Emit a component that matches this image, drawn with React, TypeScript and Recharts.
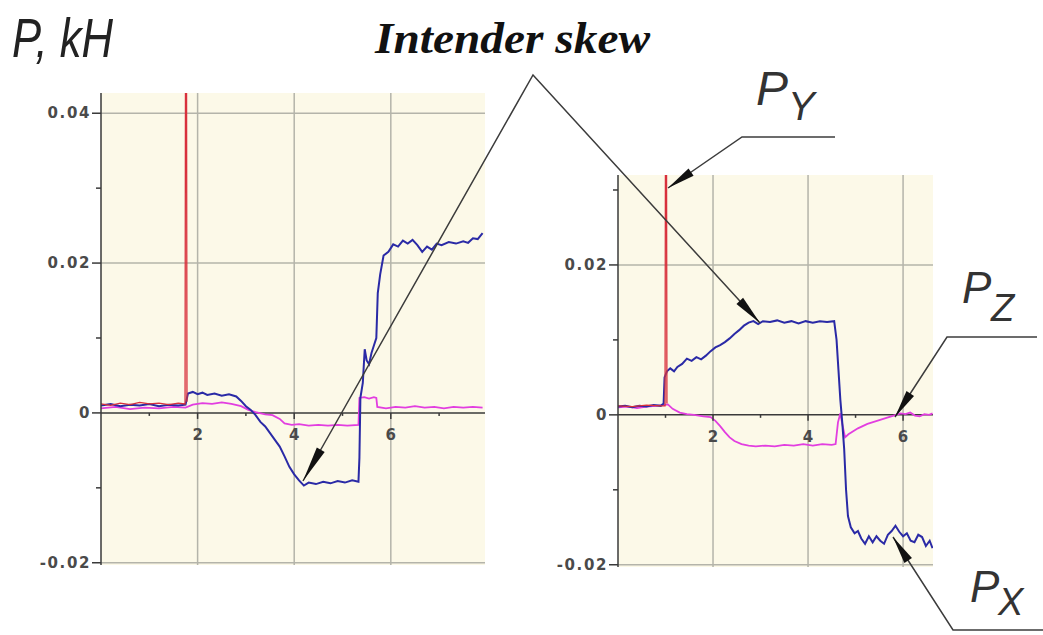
import React from "react";
import {
  CartesianGrid,
  Line,
  LineChart,
  ReferenceDot,
  ReferenceLine,
  XAxis,
  YAxis,
} from "recharts";

// force traces, [time, kH]
const leftPx: [number, number][] = [
  [0, 0.001], [0.2, 0.0012], [0.4, 0.0009], [0.6, 0.0011], [0.8, 0.001],
  [1.0, 0.0012], [1.2, 0.0009], [1.4, 0.0011], [1.6, 0.001], [1.75, 0.0011],
  [1.8, 0.0026], [1.9, 0.0028], [2.0, 0.0025], [2.1, 0.0027], [2.2, 0.0024],
  [2.35, 0.0026], [2.5, 0.0023], [2.65, 0.0025], [2.8, 0.0022], [2.9, 0.0016],
  [3.0, 0.0009], [3.1, 0.0004], [3.2, -0.0003], [3.3, -0.0012], [3.4, -0.0018],
  [3.5, -0.0027], [3.6, -0.0036], [3.7, -0.0045], [3.8, -0.0058], [3.9, -0.0072],
  [4.0, -0.0082], [4.1, -0.009], [4.2, -0.0097], [4.3, -0.0093], [4.45, -0.0095],
  [4.6, -0.0092], [4.75, -0.0094], [4.9, -0.0091], [5.05, -0.0093], [5.2, -0.009],
  [5.33, -0.0092], [5.35, -0.006], [5.37, 0.002], [5.42, 0.004], [5.46, 0.0085],
  [5.5, 0.007], [5.55, 0.0065], [5.6, 0.008], [5.65, 0.009], [5.7, 0.01],
  [5.73, 0.016], [5.78, 0.0185], [5.85, 0.021], [5.95, 0.0215], [6.05, 0.0225],
  [6.15, 0.0222], [6.25, 0.023], [6.35, 0.0226], [6.45, 0.0231], [6.55, 0.0224],
  [6.65, 0.0215], [6.75, 0.0222], [6.85, 0.0218], [6.95, 0.0226], [7.05, 0.0224],
  [7.2, 0.0228], [7.35, 0.0226], [7.5, 0.0229], [7.6, 0.0227], [7.7, 0.0233],
  [7.8, 0.0232], [7.9, 0.024],
];

const leftPz: [number, number][] = [
  [0, 0.0006], [0.3, 0.0008], [0.6, 0.0005], [0.9, 0.0007], [1.2, 0.0006],
  [1.5, 0.0008], [1.75, 0.0007], [1.9, 0.0011], [2.1, 0.0013], [2.3, 0.0012],
  [2.5, 0.0014], [2.7, 0.0012], [2.9, 0.0009], [3.05, 0.0004], [3.2, 0.0001],
  [3.4, -0.0002], [3.55, -0.0003], [3.7, -0.0008], [3.8, -0.0014], [3.95, -0.0016],
  [4.1, -0.0015], [4.3, -0.0017], [4.5, -0.0016], [4.7, -0.0017], [4.9, -0.0016],
  [5.1, -0.0017], [5.33, -0.0016], [5.35, 0.002], [5.45, 0.0021], [5.55, 0.0019],
  [5.65, 0.0021], [5.7, 0.002], [5.72, 0.0008], [5.9, 0.0006], [6.1, 0.0008],
  [6.3, 0.0007], [6.5, 0.0009], [6.7, 0.0007], [6.9, 0.0008], [7.1, 0.0006],
  [7.3, 0.0008], [7.5, 0.0007], [7.7, 0.0008], [7.9, 0.0007],
];

const leftPy: [number, number][] = [
  [0, 0.0012], [0.2, 0.001], [0.4, 0.0013], [0.6, 0.0011], [0.8, 0.0014],
  [1.0, 0.0012], [1.2, 0.0013], [1.4, 0.0011], [1.6, 0.0013], [1.74, 0.0012],
  [1.75, 0.05], [1.77, 0.05], [1.78, 0.0015],
];

const rightPx: [number, number][] = [
  [0, 0.0011], [0.15, 0.0012], [0.3, 0.001], [0.45, 0.0012], [0.6, 0.0011],
  [0.75, 0.0013], [0.9, 0.0012], [0.96, 0.0015], [0.98, 0.005], [1.03, 0.0058],
  [1.1, 0.0062], [1.18, 0.0058], [1.25, 0.0064], [1.35, 0.0068], [1.45, 0.0075],
  [1.55, 0.0072], [1.65, 0.0077], [1.75, 0.0074], [1.85, 0.0079], [1.95, 0.0085],
  [2.05, 0.009], [2.15, 0.0093], [2.25, 0.0097], [2.35, 0.0102], [2.45, 0.0108],
  [2.55, 0.0113], [2.65, 0.0119], [2.75, 0.0123], [2.85, 0.0125], [2.95, 0.0121],
  [3.05, 0.0125], [3.2, 0.0124], [3.35, 0.0126], [3.5, 0.0123], [3.65, 0.0125],
  [3.8, 0.0122], [3.95, 0.0125], [4.1, 0.0123], [4.25, 0.0125], [4.4, 0.0124],
  [4.55, 0.0125], [4.6, 0.01], [4.64, 0.006], [4.68, 0.002], [4.72, -0.001],
  [4.76, -0.0045], [4.8, -0.01], [4.84, -0.0135], [4.9, -0.015], [4.98, -0.0158],
  [5.05, -0.0155], [5.12, -0.0165], [5.2, -0.0172], [5.28, -0.0162], [5.36, -0.017],
  [5.44, -0.0162], [5.52, -0.0168], [5.6, -0.0172], [5.68, -0.016], [5.76, -0.0155],
  [5.84, -0.0148], [5.92, -0.0156], [6.0, -0.0162], [6.08, -0.0158], [6.16, -0.0168],
  [6.24, -0.017], [6.32, -0.016], [6.4, -0.0163], [6.48, -0.0175], [6.56, -0.0168],
  [6.62, -0.0178],
];

const rightPz: [number, number][] = [
  [0, 0.001], [0.2, 0.0011], [0.4, 0.0009], [0.6, 0.0011], [0.8, 0.0012],
  [0.95, 0.0013], [1.05, 0.0014], [1.15, 0.0008], [1.3, 0.0003], [1.45, 0.0001],
  [1.6, 0.0], [1.8, -0.0002], [1.95, -0.0003], [2.05, -0.0008], [2.15, -0.0015],
  [2.25, -0.0023], [2.35, -0.003], [2.45, -0.0035], [2.6, -0.0039], [2.75, -0.0041],
  [2.9, -0.0042], [3.1, -0.0041], [3.3, -0.0042], [3.5, -0.004], [3.7, -0.0041],
  [3.9, -0.0039], [4.1, -0.0041], [4.3, -0.0039], [4.5, -0.004], [4.58, -0.0039],
  [4.63, -0.001], [4.68, 0.0002], [4.72, -0.0012], [4.78, -0.003], [4.85, -0.0026],
  [4.95, -0.0022], [5.05, -0.0018], [5.15, -0.0015], [5.25, -0.0012], [5.35, -0.001],
  [5.45, -0.0008], [5.55, -0.0006], [5.65, -0.0004], [5.75, -0.0002], [5.85, 0.0],
  [5.95, 0.0002], [6.05, 0.0001], [6.15, 0.0003], [6.25, -0.0001], [6.35, -0.0002],
  [6.45, 0.0001], [6.55, 0.0], [6.62, 0.0002],
];

const rightPy: [number, number][] = [
  [0, 0.0012], [0.3, 0.0011], [0.6, 0.0013], [0.9, 0.0012], [0.99, 0.0012],
  [1.0, 0.04], [1.02, 0.04], [1.03, 0.0015],
];

const leftYTicks = [-0.02, -0.01, 0, 0.01, 0.02, 0.03, 0.04];
const leftYLabels = ["-0.02", "", "0", "", "0.02", "", "0.04"];
const rightYTicks = [-0.02, -0.01, 0, 0.01, 0.02, 0.03];
const rightYLabels = ["-0.02", "", "0", "", "0.02", ""];
const leftXTicks = [1, 2, 3, 4, 5, 6, 7];
const rightXTicks = [1, 2, 3, 4, 5, 6];
const xLabels: Record<number, string> = { 2: "2", 4: "4", 6: "6" };

const BLUE = "#2a2aa6";
const MAGENTA = "#e23ee0";
const RED = "#d8303c";
const GRID = "#b4b4aa";
const AXIS = "#3a3a3a";
const CREAM = "#fcf9e8";
const tickFont = { fontFamily: "DejaVu Sans, sans-serif", fontSize: 15, fontWeight: 700 };

const pts = (a: [number, number][]) => a.map(([x, y]) => ({ x, y }));

function makeYTick(labels: string[]) {
  return (p: any) => {
    const label = labels[p.index] ?? "";
    const len = label ? 9 : 5;
    return (
      <g>
        <line x1={p.x - len} x2={p.x} y1={p.y} y2={p.y} stroke={AXIS} strokeWidth={1.5} />
        {label && (
          <text
            x={p.x - len - 1}
            y={p.y}
            textAnchor="end"
            dominantBaseline="central"
            fill="#4a4a4a"
            letterSpacing={1.6}
            {...tickFont}
          >
            {label}
          </text>
        )}
      </g>
    );
  };
}

function makeXTick(label: string) {
  return (p: any) => (
    <g>
      <line x1={p.cx} x2={p.cx} y1={p.cy} y2={p.cy + (label ? 6 : 3)} stroke={AXIS} strokeWidth={1.5} />
      {label && (
        <text x={p.cx} y={p.cy + 22} textAnchor="middle" dominantBaseline="central" fill="#4a4a4a" {...tickFont}>
          {label}
        </text>
      )}
    </g>
  );
}

type PanelProps = {
  width: number;
  height: number;
  margin: { top: number; right: number; bottom: number; left: number };
  yWidth: number;
  xMax: number;
  yDomain: [number, number];
  yTicks: number[];
  yLabels: string[];
  xTicks: number[];
  hLines: number[];
  px: [number, number][];
  pz: [number, number][];
  py: [number, number][];
};

function Panel(props: PanelProps) {
  const { width, height, margin, yWidth, xMax, yDomain, yTicks, yLabels, xTicks, hLines } = props;
  return (
    <LineChart width={width} height={height} margin={margin}>
      <CartesianGrid horizontal={false} vertical={false} fill={CREAM} fillOpacity={1} />
      <XAxis dataKey="x" type="number" domain={[0, xMax]} allowDataOverflow hide />
      <YAxis
        type="number"
        domain={yDomain}
        allowDataOverflow
        ticks={yTicks}
        interval={0}
        width={yWidth}
        tickSize={0}
        tickMargin={0}
        tickLine={false}
        axisLine={{ stroke: AXIS, strokeWidth: 1.5 }}
        tick={makeYTick(yLabels)}
      />
      {[2, 4, 6].map((v) => (
        <ReferenceLine key={"vx" + v} x={v} stroke={GRID} strokeWidth={1.5} />
      ))}
      {hLines.map((v) => (
        <ReferenceLine key={"hy" + v} y={v} stroke={GRID} strokeWidth={1.5} />
      ))}
      <ReferenceLine y={0} stroke={AXIS} strokeWidth={1.5} />
      {xTicks.map((v) => (
        <ReferenceDot key={"xt" + v} x={v} y={0} r={0} shape={makeXTick(xLabels[v] ?? "")} />
      ))}
      <Line data={pts(props.pz)} dataKey="y" stroke={MAGENTA} strokeWidth={1.8} dot={false} isAnimationActive={false} />
      <Line data={pts(props.px)} dataKey="y" stroke={BLUE} strokeWidth={2} dot={false} isAnimationActive={false} />
      <Line data={pts(props.py)} dataKey="y" stroke={RED} strokeWidth={1.3} dot={false} isAnimationActive={false} />
    </LineChart>
  );
}

function arrowHead(tx: number, ty: number, fx: number, fy: number, len: number, half: number) {
  const dx = fx - tx;
  const dy = fy - ty;
  const d = Math.hypot(dx, dy);
  const ux = dx / d;
  const uy = dy / d;
  const bx = tx + ux * len;
  const by = ty + uy * len;
  return `${tx},${ty} ${bx - uy * half},${by + ux * half} ${bx + uy * half},${by - ux * half}`;
}

const INK = "#3c3c3c";
const labelFont = "Liberation Sans Narrow, Arial Narrow, sans-serif";

function Overlay() {
  return (
    <svg width={1043} height={635} style={{ position: "absolute", left: 0, top: 0, pointerEvents: "none" }}>
      <text x={12} y={57} fontFamily={labelFont} fontStyle="italic" fontSize={56} fill="#222" textLength={101} lengthAdjust="spacingAndGlyphs">
        P, kH
      </text>
      <text x={375} y={53} fontFamily="Liberation Serif, Times New Roman, serif" fontStyle="italic" fontWeight={700} fontSize={45} fill="#111" textLength={275} lengthAdjust="spacingAndGlyphs">
        Intender skew
      </text>

      {/* intender skew leaders */}
      <polyline points="303,481 533,75 760,323" fill="none" stroke={INK} strokeWidth={1.5} />
      <polygon points={arrowHead(303, 481, 533, 75, 36, 4.5)} fill="#111" />
      <polygon points={arrowHead(760, 323, 533, 75, 30, 4.5)} fill="#111" />

      {/* P_Y */}
      <text x={756} y={105} fontFamily={labelFont} fontStyle="italic" fontSize={48} fill="#333">P</text>
      <text x={788} y={120} fontFamily={labelFont} fontStyle="italic" fontSize={40} fill="#333">Y</text>
      <polyline points="835,137 742,137 668,188" fill="none" stroke={INK} strokeWidth={1.5} />
      <polygon points={arrowHead(668, 188, 742, 137, 28, 4.5)} fill="#111" />

      {/* P_Z */}
      <text x={962} y={303} fontFamily={labelFont} fontStyle="italic" fontSize={44} fill="#333">P</text>
      <text x={991} y={321} fontFamily={labelFont} fontStyle="italic" fontSize={38} fill="#333">Z</text>
      <polyline points="1037,337 947,337 895,417" fill="none" stroke={INK} strokeWidth={1.5} />
      <polygon points={arrowHead(895, 417, 947, 337, 28, 4.5)} fill="#111" />

      {/* P_X */}
      <text x={970} y={602} fontFamily={labelFont} fontStyle="italic" fontSize={44} fill="#333">P</text>
      <text x={998} y={615} fontFamily={labelFont} fontStyle="italic" fontSize={38} fill="#333">X</text>
      <polyline points="893,537 953,630 1043,630" fill="none" stroke={INK} strokeWidth={1.5} />
      <polygon points={arrowHead(893, 537, 953, 630, 28, 4.5)} fill="#111" />
    </svg>
  );
}

export default function App() {
  return (
    <div style={{ position: "absolute", left: 0, top: 0, width: 1043, height: 635, background: "#fff", overflow: "hidden" }}>
      <div style={{ position: "absolute", left: 0, top: 0 }}>
        <Panel
          width={500}
          height={600}
          margin={{ top: 93, right: 15, bottom: 35, left: 0 }}
          yWidth={101}
          xMax={7.95}
          yDomain={[-0.0203, 0.0427]}
          yTicks={leftYTicks}
          yLabels={leftYLabels}
          xTicks={leftXTicks}
          hLines={[0.04, 0.02, -0.02]}
          px={leftPx}
          pz={leftPz}
          py={leftPy}
        />
      </div>
      <div style={{ position: "absolute", left: 520, top: 0 }}>
        <Panel
          width={440}
          height={600}
          margin={{ top: 175, right: 27, bottom: 33, left: 0 }}
          yWidth={98}
          xMax={6.63}
          yDomain={[-0.0203, 0.032]}
          yTicks={rightYTicks}
          yLabels={rightYLabels}
          xTicks={rightXTicks}
          hLines={[0.02, -0.02]}
          px={rightPx}
          pz={rightPz}
          py={rightPy}
        />
      </div>
      <Overlay />
    </div>
  );
}
